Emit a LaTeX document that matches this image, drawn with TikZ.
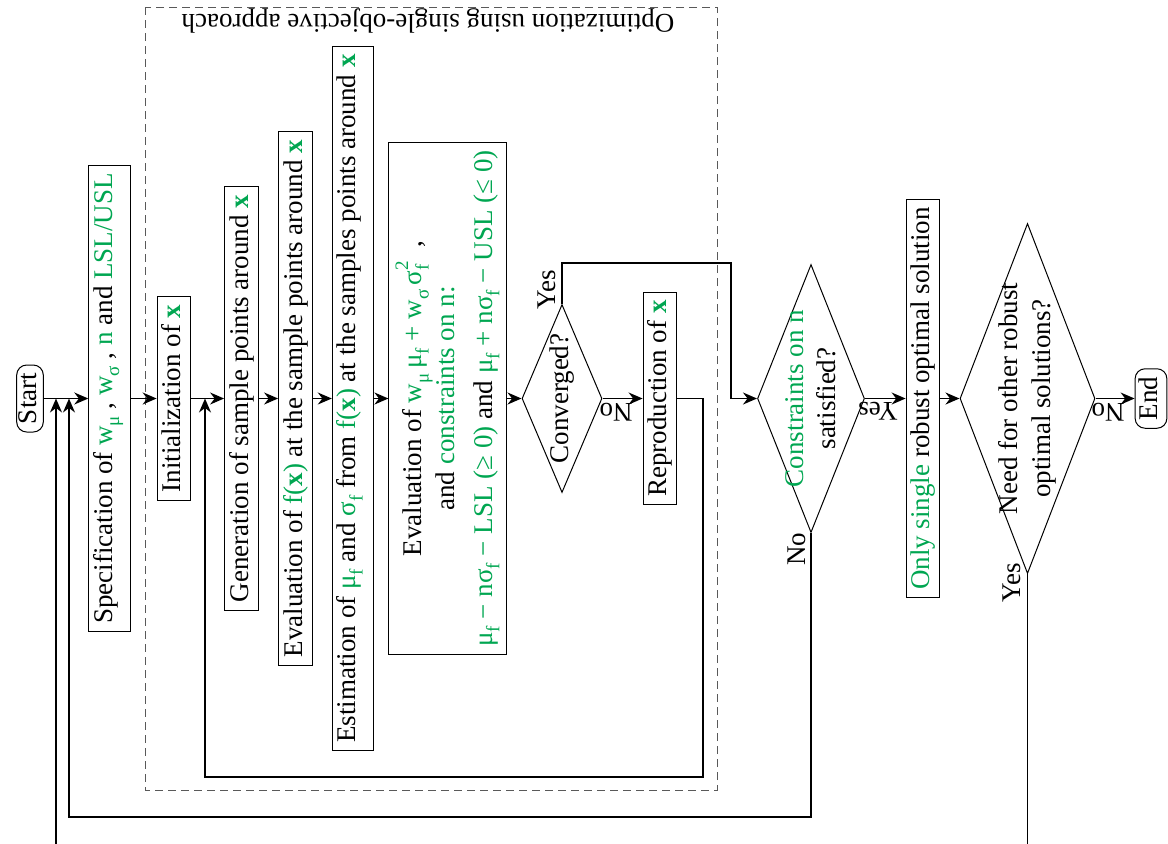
\documentclass[tikz,border=0pt]{standalone}
\usepackage{fontspec}
\setmainfont{Liberation Serif}
\usetikzlibrary{arrows.meta,shapes.geometric}

\definecolor{optgreen}{RGB}{0,166,81}
\newcommand{\grn}[1]{\textcolor{optgreen}{#1}}
\newcommand{\vecx}{\textbf{x}}
\newcommand{\subtxt}[1]{\raisebox{-0.55ex}{\fontsize{9.5pt}{10pt}\selectfont #1}}
\newcommand{\suptxt}[1]{\raisebox{1.1ex}{\fontsize{9.5pt}{10pt}\selectfont #1}}

\begin{document}
\begin{tikzpicture}[
      x=0.5pt, y=-0.5pt,
      font=\fontsize{13.5pt}{16.2pt}\selectfont,
      block/.style = {rectangle, draw, rotate=90, line width=0.5pt,
                      inner xsep=4pt, inner ysep=2.1pt,
                      text height=9.7pt, text depth=3pt},
      bigblock/.style = {rectangle, draw, rotate=90, line width=0.5pt,
                      align=center, minimum width=256pt, minimum height=54.5pt},
      terminal/.style = {block, rounded corners=5pt, inner ysep=0.3pt},
      decision/.style = {diamond, draw, rotate=90, line width=0.5pt, align=center},
      lbl/.style = {inner sep=1pt},
      group/.style = {draw=black!65, dash pattern=on 4pt off 2.5pt, line width=0.5pt},
      arrow/.style = {-{Stealth[length=7pt,width=6pt]}, line width=0.75pt}
    ]
    \useasboundingbox (0,0) rectangle (1168,843);
    \clip (0,0) rectangle (1168,843);

    % Group
    \draw[group] (145,7) rectangle (717,790);
    \node[rotate=180] (grouptitle) at (428,21) {Optimization using single-objective approach};

    % Nodes
    \node[terminal] (start) at (30,398.5) {Start};
    \node[block, text depth=6.8pt] (spec) at (109.5,398.5)
      {Specification of \grn{w\subtxt{μ}} , \grn{w\subtxt{σ}} , \grn{n} and \grn{LSL/USL}};
    \node[block] (init) at (174,398.5) {Initialization of \grn{\vecx}};
    \node[block] (gen) at (241.5,398.5) {Generation of sample points around \grn{\vecx}};
    \node[block] (evalf) at (295.5,398.5)
      {Evaluation of \grn{f(\vecx)} at the sample points around \grn{\vecx}};
    \node[block, text depth=6.8pt] (estim) at (353,398.5)
      {Estimation of \grn{μ\subtxt{f}} and \grn{σ\subtxt{f}} from \grn{f(\vecx)} at the samples points around \grn{\vecx}};
    \node[bigblock] (evalobj) at (447.5,398.5)
      {Evaluation of \grn{w\subtxt{μ}\,μ\subtxt{f} + w\subtxt{σ}\,σ\rlap{\subtxt{f}}\suptxt{2}}\ \ ,\\
       and \grn{constraints on n:}\\[3pt]
       \grn{μ\subtxt{f} − nσ\subtxt{f} − LSL (≥ 0)} and \grn{μ\subtxt{f} + nσ\subtxt{f} − USL (≤ 0)}};
    \node[decision, aspect=2.35, minimum width=94pt, minimum height=40pt, inner sep=-3pt] (conv) at (562,398.5) {Converged?};
    \node[block] (repro) at (660,398.5) {Reproduction of \grn{\vecx}};
    \node[decision, aspect=2.5, minimum width=134pt, minimum height=53.5pt, inner sep=-4pt] (cons) at (811,398.5)
      {\grn{Constraints on n}\\satisfied?};
    \node[block] (single) at (923,398.5) {\grn{Only single} robust optimal solution};
    \node[decision, aspect=2.6, minimum width=175pt, minimum height=67.5pt, inner sep=-5pt] (need) at (1027.5,398.5)
      {Need for other robust\\optimal solutions?};
    \node[terminal, inner ysep=1.6pt] (end) at (1151,398.5) {End};

    % Labels
    \node[lbl, rotate=90] (convyes) at (547,290) {Yes};
    \node[lbl, rotate=180] (convno) at (616,412) {No};
    \node[lbl, rotate=180] (consyes) at (878,411) {Yes};
    \node[lbl, rotate=90] (consno) at (797,549) {No};
    \node[lbl, rotate=180] (needno) at (1108,412) {No};
    \node[lbl, rotate=90] (needyes) at (1012,583) {Yes};

    % Corners
    \coordinate (yesturn) at (731,263);
    \coordinate (reprocorner) at (703,777);
    \coordinate (reprojoin) at (205,398.5);
    \coordinate (consloop) at (69,817);
    \coordinate (consjoin) at (69,398.5);
    \coordinate (needloop) at (56,880);
    \coordinate (needjoin) at (56,398.5);

    % Arrows
    \draw[arrow] (start)   -- (spec);
    \draw[arrow] (spec)    -- (init);
    \draw[arrow] (init)    -- (gen);
    \draw[arrow] (gen)     -- (evalf);
    \draw[arrow] (evalf)   -- (estim);
    \draw[arrow] (estim)   -- (evalobj);
    \draw[arrow] (evalobj) -- (conv);
    \draw[arrow] (conv)    -- (repro);
    \draw[arrow] (conv.east) |- (yesturn) |- (cons.north);
    \draw[arrow] (repro.south) -| (reprocorner) -| (reprojoin);
    \draw[arrow] (cons)    -- (single);
    \draw[arrow] (cons.west) |- (consloop) -- (consjoin);
    \draw[arrow] (single)  -- (need);
    \draw[arrow] (need)    -- (end);
    \draw[arrow] (need.west) |- (needloop) -- (needjoin);
  \end{tikzpicture}
\end{document}
